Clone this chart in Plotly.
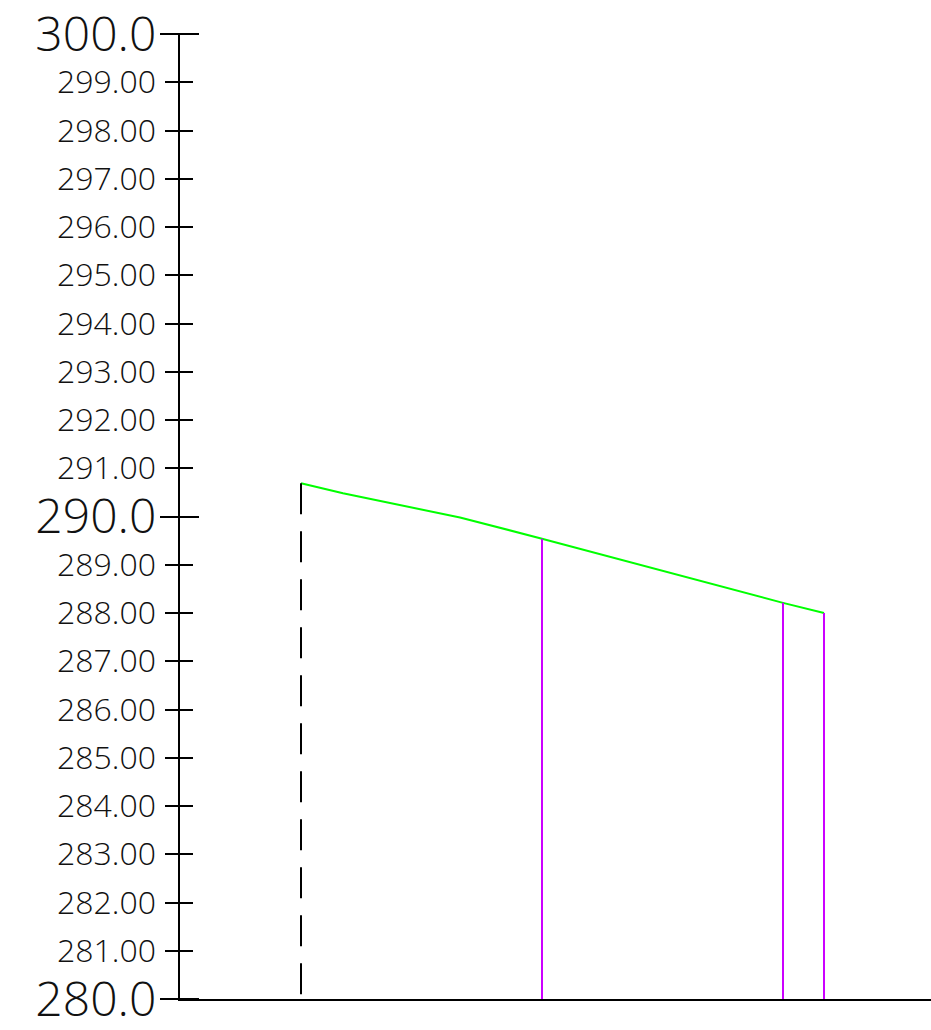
import plotly.graph_objects as go

# Profile (ground line) data
stations = [121, 163, 280, 362, 603, 644]
elevations = [290.69, 290.48, 289.98, 289.54, 288.21, 288.00]

# Dashed start line
dashed_station = 121
dashed_elev = 290.69

# Purple vertical lines
purple_stations = [362, 603, 644]
purple_elevs = [289.54, 288.21, 288.00]

# Axis ranges and ticks
y_min, y_max = 280, 300
x_min, x_max = 0, 751
minor_vals = [v for v in range(281, 300) if v != 290]
minor_labels = [f"{v:.2f}" for v in minor_vals]
major_vals = [280, 290, 300]
major_labels = [f"{v:.1f}" for v in major_vals]

FONT = "Open Sans"

fig = go.Figure()

# Green profile line
fig.add_trace(go.Scatter(x=stations, y=elevations, mode="lines",
                         line=dict(color="#00FF00", width=2),
                         showlegend=False, hoverinfo="skip"))

# Dashed black vertical
fig.add_trace(go.Scatter(x=[dashed_station, dashed_station], y=[dashed_elev, y_min],
                         mode="lines", line=dict(color="black", width=2, dash="31px,17px"),
                         showlegend=False, hoverinfo="skip"))

# Purple verticals
for s, e in zip(purple_stations, purple_elevs):
    fig.add_trace(go.Scatter(x=[s, s], y=[e, y_min], mode="lines",
                             line=dict(color="#CC00FF", width=2),
                             showlegend=False, hoverinfo="skip"))

# Dummy traces for overlay axes
for ya in ["y2", "y3"]:
    fig.add_trace(go.Scatter(x=[None], y=[None], yaxis=ya, mode="lines",
                             showlegend=False, hoverinfo="skip"))

common = dict(range=[y_min, y_max], showgrid=False, zeroline=False,
              ticklabeloverflow="allow",
              tickcolor="black", tickwidth=2, automargin=False)

fig.update_layout(
    width=931, height=1030,
    margin=dict(l=180, r=0, t=34, b=31, autoexpand=False),
    paper_bgcolor="white", plot_bgcolor="white",
    font=dict(family=FONT, color="black"),
    xaxis=dict(range=[x_min, x_max], showgrid=False, zeroline=False,
               showline=True, linecolor="black", linewidth=2, automargin=False,
               showticklabels=False, ticks=""),
    # main axis: big labels + long outside ticks, short outside minor ticks
    yaxis=dict(**common, tickmode="array", tickvals=major_vals, ticktext=major_labels,
               ticks="outside", ticklen=18, showline=True, linecolor="black", linewidth=2,
               tickfont=dict(family=FONT, size=48, color="#111111", weight=300),
               ticklabelstandoff=-6,
               minor=dict(tickmode="array", tickvals=minor_vals, ticks="outside",
                          ticklen=13, tickwidth=2, tickcolor="black", showgrid=False)),
    # overlay: small labels + short inside ticks
    yaxis2=dict(**common, overlaying="y", anchor="x", side="left",
                tickmode="array", tickvals=minor_vals, ticktext=minor_labels,
                ticks="inside", ticklen=13, showline=False,
                tickfont=dict(family=FONT, size=32, color="#111111", weight=300),
                ticklabelstandoff=23),
    # overlay shifted right: long ticks crossing the axis at major values
    yaxis3=dict(**common, overlaying="y", anchor="free", position=0, side="left",
                shift=19, autoshift=False,
                tickmode="array", tickvals=major_vals, ticks="outside", ticklen=37,
                showticklabels=False, showline=False),
)

fig.write_html("out.html", config={"displayModeBar": False},
               post_script="document.body.style.margin='0';document.body.style.overflow='hidden';")
